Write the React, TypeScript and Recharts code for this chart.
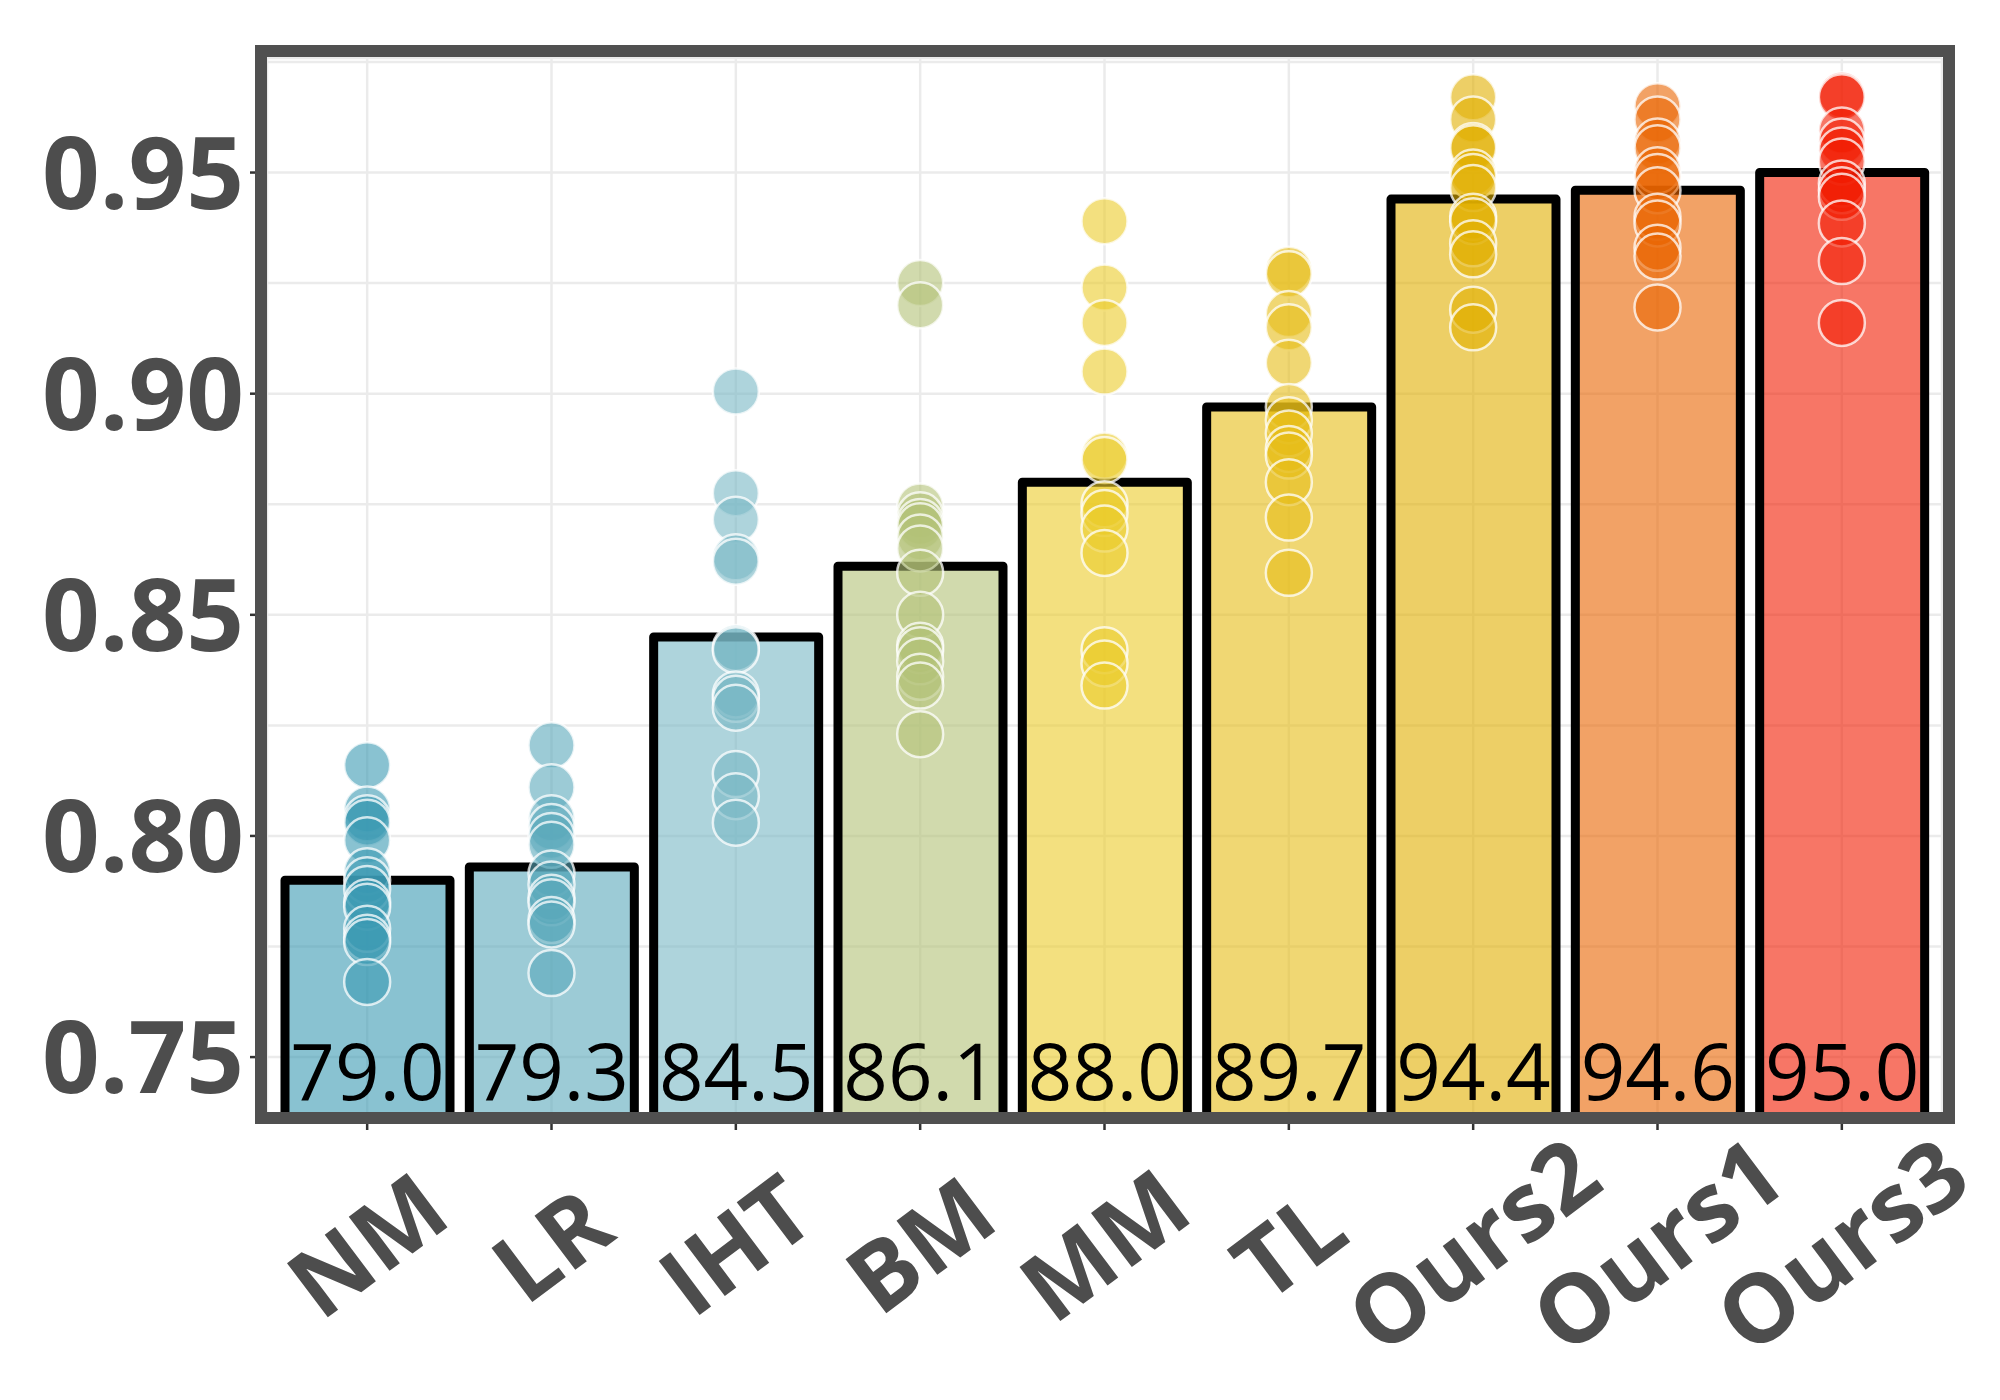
import React from "react";
import {
  ComposedChart,
  Bar,
  Scatter,
  XAxis,
  YAxis,
  CartesianGrid,
  Cell,
  LabelList,
} from "recharts";

const categories = ["NM", "LR", "IHT", "BM", "MM", "TL", "Ours2", "Ours1", "Ours3"];
const barValues = [0.79, 0.793, 0.845, 0.861, 0.88, 0.897, 0.944, 0.946, 0.95];
const barLabels = ["79.0", "79.3", "84.5", "86.1", "88.0", "89.7", "94.4", "94.6", "95.0"];
const colors = ["#3B9AB2", "#5AA8BB", "#78B7C5", "#B2C177", "#EBCC2A", "#E6BD15", "#E1AF00", "#E96400", "#F21A00"];
const yTicks = [0.75, 0.775, 0.8, 0.825, 0.85, 0.875, 0.9, 0.925, 0.95, 0.975];

// individual run scores per method
const nmDots = [0.816, 0.806, 0.804, 0.803, 0.799, 0.792, 0.79, 0.788, 0.785, 0.784, 0.779, 0.777, 0.776, 0.767];
const lrDots = [0.8205, 0.811, 0.804, 0.802, 0.8, 0.798, 0.7915, 0.789, 0.786, 0.785, 0.781, 0.78, 0.769];
const ihtDots = [0.9005, 0.8775, 0.8715, 0.863, 0.862, 0.8425, 0.842, 0.832, 0.831, 0.829, 0.814, 0.809, 0.803];
const bmDots = [0.925, 0.92, 0.8745, 0.8725, 0.871, 0.87, 0.8675, 0.865, 0.8595, 0.85, 0.843, 0.842, 0.8395, 0.836, 0.834, 0.823];
const mmDots = [0.939, 0.924, 0.916, 0.905, 0.886, 0.885, 0.875, 0.873, 0.8695, 0.864, 0.842, 0.839, 0.834];
const tlDots = [0.928, 0.927, 0.918, 0.915, 0.907, 0.897, 0.894, 0.891, 0.8875, 0.886, 0.88, 0.872, 0.8595];
const ours2Dots = [0.967, 0.962, 0.956, 0.9555, 0.95, 0.949, 0.9465, 0.94, 0.939, 0.934, 0.9315, 0.919, 0.915];
const ours1Dots = [0.965, 0.962, 0.957, 0.9555, 0.9505, 0.949, 0.946, 0.94, 0.9385, 0.933, 0.931, 0.9195];
const ours3Dots = [0.9675, 0.967, 0.9595, 0.957, 0.955, 0.9525, 0.9475, 0.946, 0.9445, 0.9385, 0.93, 0.916];

const dotGroups = [nmDots, lrDots, ihtDots, bmDots, mmDots, tlDots, ours2Dots, ours1Dots, ours3Dots];

const barData = categories.map((name, i) => ({ name, value: barValues[i], label: barLabels[i] }));

const FONT = "Open Sans";
const GREY = "#4d4d4d";

const YTick = (props: any) => {
  const { x, y, payload } = props;
  const major = Math.round(payload.value * 1000) % 50 === 0;
  if (!major) return <g />;
  return (
    <g>
      <line x1={x - 17} x2={x} y1={y} y2={y} stroke="#333" strokeWidth={2.5} />
      <text
        x={x - 23}
        y={y}
        dy="0.36em"
        textAnchor="end"
        fontFamily={FONT}
        fontWeight={700}
        fontSize={101}
        fill={GREY}
      >
        {payload.value.toFixed(2)}
      </text>
    </g>
  );
};

const XTick = (props: any) => {
  const { x, y, payload } = props;
  const cy = y + 126;
  return (
    <g>
      <line x1={x} x2={x} y1={y} y2={y + 11} stroke="#333" strokeWidth={2.5} />
      <text
        x={x}
        y={cy}
        dy="0.36em"
        textAnchor="middle"
        transform={`rotate(-37, ${x}, ${cy})`}
        fontFamily={FONT}
        fontWeight={700}
        fontSize={95}
        fill={GREY}
      >
        {payload.value}
      </text>
    </g>
  );
};

const ValueLabel = (props: any) => {
  const { x, y, width, height, value } = props;
  return (
    <text x={x + width / 2} y={y + height - 19} textAnchor="middle" fontFamily={FONT} fontSize={78} fill="#000">
      {value}
    </text>
  );
};

const makeDot = (color: string) => (props: any) => (
  <circle
    cx={props.cx}
    cy={props.cy}
    r={23}
    fill={color}
    fillOpacity={0.6}
    stroke="#fff"
    strokeOpacity={0.75}
    strokeWidth={2.5}
  />
);

export default function App() {
  return (
    <div style={{ position: "relative", width: 1984, height: 1384 }}>
      <ComposedChart width={1984} height={1384} data={barData} margin={{ top: 50, right: 50, bottom: 0, left: 0 }}>
        <CartesianGrid stroke="#ebebeb" strokeWidth={2.5} />
        <XAxis
          dataKey="name"
          type="category"
          allowDuplicatedCategory={false}
          padding={{ left: 8, right: 8 }}
          height={273}
          axisLine={false}
          tickLine={false}
          tickSize={0}
          tickMargin={0}
          interval={0}
          tick={<XTick />}
        />
        <YAxis
          type="number"
          domain={[0.736, 0.9759]}
          allowDataOverflow
          ticks={yTicks}
          interval={0}
          width={259}
          axisLine={false}
          tickLine={false}
          tickSize={0}
          tickMargin={0}
          tick={<YTick />}
        />
        <Bar dataKey="value" barSize={165} stroke="#000" strokeWidth={9} strokeLinejoin="round" isAnimationActive={false}>
          {barData.map((d, i) => (
            <Cell key={d.name} fill={colors[i]} fillOpacity={0.6} />
          ))}
          <LabelList dataKey="label" content={<ValueLabel />} />
        </Bar>
        {dotGroups.map((vals, i) => (
          <Scatter
            key={categories[i]}
            data={vals.map((v) => ({ name: categories[i], v }))}
            dataKey="v"
            shape={makeDot(colors[i])}
            isAnimationActive={false}
          />
        ))}
      </ComposedChart>
      <div
        style={{
          position: "absolute",
          left: 247,
          top: 37,
          width: 1700,
          height: 1079,
          boxSizing: "border-box",
          border: "12px solid #505050",
          pointerEvents: "none",
        }}
      />
    </div>
  );
}
